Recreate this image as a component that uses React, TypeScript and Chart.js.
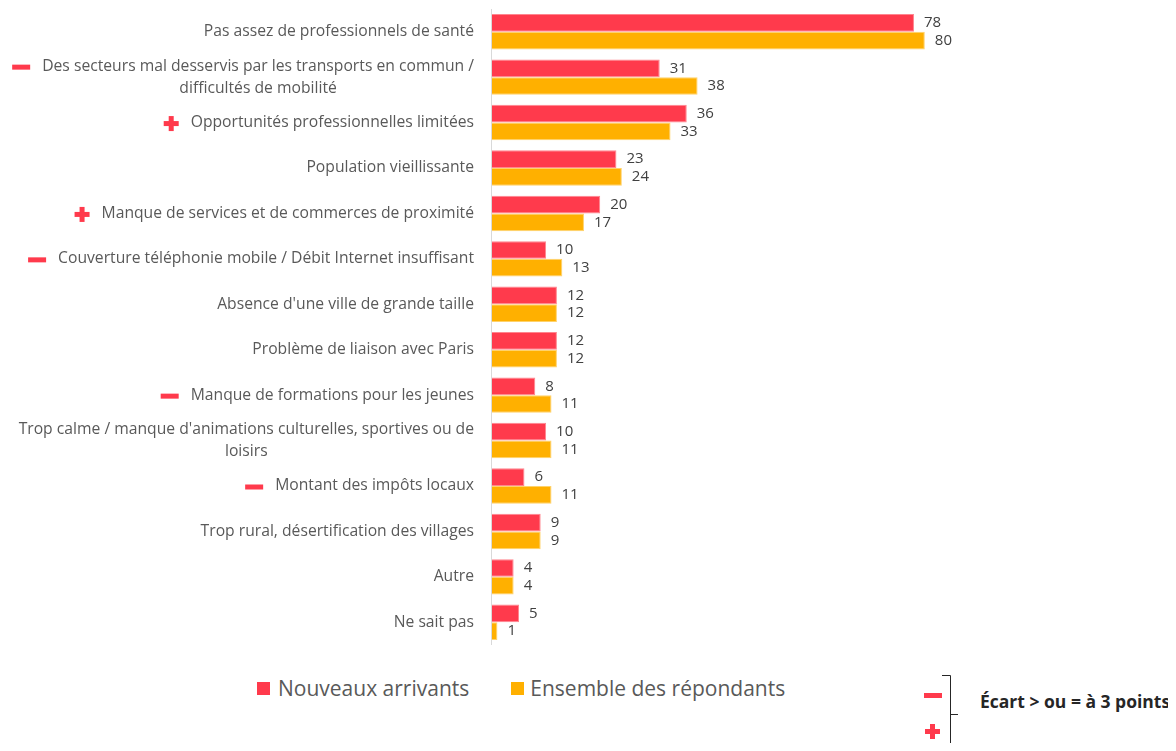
import React, { useEffect, useRef } from "react";
import { Chart, registerables } from "chart.js";

Chart.register(...registerables);

const categories: string[][] = [
  ["Pas assez de professionnels de santé"],
  ["Des secteurs mal desservis par les transports en commun /", "difficultés de mobilité"],
  ["Opportunités professionnelles limitées"],
  ["Population vieillissante"],
  ["Manque de services et de commerces de proximité"],
  ["Couverture téléphonie mobile / Débit Internet insuffisant"],
  ["Absence d'une ville de grande taille"],
  ["Problème de liaison avec Paris"],
  ["Manque de formations pour les jeunes"],
  ["Trop calme / manque d'animations culturelles, sportives ou de", "loisirs"],
  ["Montant des impôts locaux"],
  ["Trop rural, désertification des villages"],
  ["Autre"],
  ["Ne sait pas"],
];

// "-" / "+" : écart >= 3 points
const markers: string[] = ["", "-", "+", "", "+", "-", "", "", "-", "", "-", "", "", ""];

const nouveauxArrivants: number[] = [78, 31, 36, 23, 20, 10, 12, 12, 8, 10, 6, 9, 4, 5];
const ensembleRepondants: number[] = [80, 38, 33, 24, 17, 13, 12, 12, 11, 11, 11, 9, 4, 1];

const seriesNames: string[] = ["Nouveaux arrivants", "Ensemble des répondants"];

const RED = "#FF3A4C";
const YELLOW = "#FFB000";
const FONT = "'Open Sans', Lato, sans-serif";

const drawMarker = (ctx: CanvasRenderingContext2D, type: string, xRight: number, y: number) => {
  ctx.fillStyle = RED;
  if (type === "-") {
    ctx.fillRect(xRight - 18, y - 2.5, 18, 5);
  } else if (type === "+") {
    const cx = xRight - 7.5;
    ctx.fillRect(cx - 7.5, y - 2.5, 15, 5);
    ctx.fillRect(cx - 2.5, y - 7.5, 5, 15);
  }
};

const labelsPlugin = {
  id: "customLabels",
  afterDatasetsDraw(chart: any) {
    const ctx: CanvasRenderingContext2D = chart.ctx;
    const area = chart.chartArea;
    const yScale = chart.scales.y;
    ctx.save();
    // axis line
    ctx.strokeStyle = "#D9D9D9";
    ctx.lineWidth = 1;
    ctx.beginPath();
    ctx.moveTo(area.left - 0.5, area.top);
    ctx.lineTo(area.left - 0.5, area.bottom);
    ctx.stroke();

    // category labels
    ctx.font = `15.7px ${FONT}`;
    ctx.fillStyle = "#595959";
    ctx.textBaseline = "middle";
    const rightX = area.left - 18;
    const lh = 22;
    categories.forEach((lines, i) => {
      const yc = yScale.getPixelForValue(i);
      const widths = lines.map((l) => ctx.measureText(l).width);
      const maxW = Math.max(...widths);
      let firstStart = rightX - widths[0];
      lines.forEach((line, j) => {
        const ly = yc + (j - (lines.length - 1) / 2) * lh;
        ctx.fillStyle = "#595959";
        if (lines.length === 1) {
          ctx.textAlign = "right";
          ctx.fillText(line, rightX, ly);
        } else {
          ctx.textAlign = "center";
          ctx.fillText(line, rightX - maxW / 2, ly);
          if (j === 0) firstStart = rightX - maxW / 2 - widths[0] / 2;
        }
      });
      if (markers[i]) {
        const fy = yc - ((lines.length - 1) / 2) * lh;
        drawMarker(ctx, markers[i], firstStart - 12, fy + 1);
      }
    });

    // value labels
    ctx.font = `15px ${FONT}`;
    ctx.fillStyle = "#404040";
    ctx.textAlign = "left";
    chart.data.datasets.forEach((ds: any, di: number) => {
      const meta = chart.getDatasetMeta(di);
      meta.data.forEach((bar: any, i: number) => {
        ctx.fillText(String(ds.data[i]), bar.x + 10, bar.y);
      });
    });
    ctx.restore();
  },
};

export default function App() {
  const canvasRef = useRef<HTMLCanvasElement | null>(null);

  useEffect(() => {
    if (!canvasRef.current) return;
    const chart = new Chart(canvasRef.current, {
      type: "bar",
      data: {
        labels: categories.map((c) => c.join(" ")),
        datasets: [
          {
            label: seriesNames[0],
            data: nouveauxArrivants,
            backgroundColor: RED,
            borderColor: "rgba(255,120,130,0.9)",
            borderWidth: 1,
            categoryPercentage: 0.78,
            barPercentage: 1,
          },
          {
            label: seriesNames[1],
            data: ensembleRepondants,
            backgroundColor: YELLOW,
            borderColor: "rgba(255,205,90,0.9)",
            borderWidth: 1,
            categoryPercentage: 0.78,
            barPercentage: 1,
          },
        ],
      },
      options: {
        indexAxis: "y",
        animation: false,
        responsive: false,
        maintainAspectRatio: false,
        layout: { padding: { left: 484, right: 135, top: 1, bottom: 3 } },
        scales: {
          x: { display: false, min: 0, max: 100 },
          y: { display: false },
        },
        plugins: {
          legend: { display: false },
          tooltip: { enabled: false },
        },
      },
      plugins: [labelsPlugin],
    });
    return () => chart.destroy();
  }, []);

  const legendText: React.CSSProperties = {
    fontFamily: FONT,
    fontSize: 21,
    color: "#595959",
    lineHeight: "24px",
  };

  return (
    <div style={{ position: "relative", width: 1160, height: 735 }}>
      <canvas ref={canvasRef} width={1160} height={640} style={{ display: "block", width: 1160, height: 640 }} />
      <div style={{ position: "absolute", left: 249, top: 668, display: "flex", alignItems: "center" }}>
        <span style={{ width: 13, height: 13, background: RED, display: "inline-block", marginRight: 8 }} />
        <span style={legendText}>{seriesNames[0]}</span>
        <span style={{ width: 13, height: 13, background: YELLOW, display: "inline-block", marginLeft: 42, marginRight: 6 }} />
        <span style={legendText}>{seriesNames[1]}</span>
      </div>
      <svg style={{ position: "absolute", left: 900, top: 660 }} width={60} height={83}>
        <rect x={16} y={25} width={18} height={5} fill={RED} />
        <rect x={17} y={61} width={15} height={5} fill={RED} />
        <rect x={22} y={56} width={5} height={15} fill={RED} />
        <path d="M34 7.5 H42.5 V83 M42.5 46.5 H50" stroke="#262626" strokeWidth={1} fill="none" />
      </svg>
      <div
        style={{
          position: "absolute",
          left: 972,
          top: 681,
          fontFamily: FONT,
          fontWeight: 700,
          fontSize: 17.5,
          color: "#262626",
          whiteSpace: "nowrap",
        }}
      >
        Écart &gt; ou = à 3 points
      </div>
    </div>
  );
}
